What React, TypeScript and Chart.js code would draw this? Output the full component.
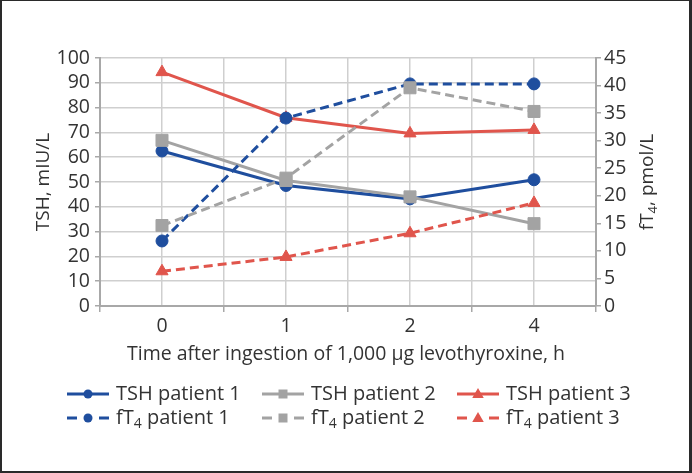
import React, { useEffect, useRef } from "react";
import { Chart, registerables } from "chart.js";

Chart.register(...registerables);

const categories = ["0", "1", "2", "4"];
const tshPatient1 = [62.5, 48.6, 43.2, 50.9];
const tshPatient2 = [66.8, 50.6, 44.0, 33.2];
const tshPatient3 = [94.3, 75.9, 69.6, 71.0];
const ft4Patient1 = [11.8, 34.1, 40.3, 40.3];
const ft4Patient2 = [14.6, 23.2, 39.6, 35.3];
const ft4Patient3 = [6.3, 8.9, 13.2, 18.7];
const leftTicks = { min: 0, max: 100, step: 10 };
const rightTicks = { min: 0, max: 45, step: 5 };
const xTitle = "Time after ingestion of 1,000 μg levothyroxine, h";
const leftTitle = "TSH, mIU/L";
const rightTitle = "fT₄, pmol/L";

const BLUE = "#1F4E9E";
const GRAY = "#A3A3A3";
const RED = "#E0554C";
const TEXT = "#333333";
const FONT = "'Open Sans', 'Noto Sans', sans-serif";

function drawRich(ctx: CanvasRenderingContext2D, text: string, x: number, y: number, size: number, align: "left" | "center") {
  const parts = text.split("₄");
  const segs: { t: string; sub: boolean }[] = [];
  parts.forEach((p, i) => {
    if (p) segs.push({ t: p, sub: false });
    if (i < parts.length - 1) segs.push({ t: "4", sub: true });
  });
  const main = `${size}px ${FONT}`;
  const small = `${Math.round(size * 0.7)}px ${FONT}`;
  let total = 0;
  segs.forEach((s) => {
    ctx.font = s.sub ? small : main;
    total += ctx.measureText(s.t).width;
  });
  let cx = align === "center" ? x - total / 2 : x;
  ctx.textBaseline = "middle";
  ctx.textAlign = "left";
  segs.forEach((s) => {
    ctx.font = s.sub ? small : main;
    ctx.fillText(s.t, cx, s.sub ? y + size * 0.3 : y);
    cx += ctx.measureText(s.t).width;
  });
}

function drawMarker(ctx: CanvasRenderingContext2D, style: string, x: number, y: number, r: number, color: string) {
  ctx.fillStyle = color;
  ctx.beginPath();
  if (style === "circle") {
    ctx.arc(x, y, r, 0, Math.PI * 2);
  } else if (style === "rect") {
    ctx.rect(x - r, y - r, 2 * r, 2 * r);
  } else {
    const h = r * 1.8;
    ctx.moveTo(x, y - h * 0.6);
    ctx.lineTo(x + r * 1.05, y + h * 0.4);
    ctx.lineTo(x - r * 1.05, y + h * 0.4);
    ctx.closePath();
  }
  ctx.fill();
}

const decorPlugin = {
  id: "decor",
  afterDraw(chart: any) {
    const ctx: CanvasRenderingContext2D = chart.ctx;
    const ca = chart.chartArea;
    ctx.save();
    ctx.fillStyle = TEXT;
    // x title
    drawRich(ctx, xTitle, (ca.left + ca.right) / 2 - 2, ca.bottom + 48, 19.5, "center");
    // left title
    ctx.save();
    ctx.translate(44, (ca.top + ca.bottom) / 2);
    ctx.rotate(-Math.PI / 2);
    ctx.fillStyle = TEXT;
    drawRich(ctx, leftTitle, 0, 0, 19, "center");
    ctx.restore();
    // right title
    ctx.save();
    ctx.translate(648, (ca.top + ca.bottom) / 2);
    ctx.rotate(-Math.PI / 2);
    ctx.fillStyle = TEXT;
    drawRich(ctx, rightTitle, 0, 0, 19, "center");
    ctx.restore();
    // legend
    const cols = [67, 262, 457];
    const rows = [ca.bottom + 88, ca.bottom + 112];
    const ds = chart.data.datasets;
    ds.forEach((d: any, i: number) => {
      const col = i % 3;
      const row = Math.floor(i / 3);
      const x0 = cols[col];
      const x1 = x0 + 42;
      const y = rows[row];
      const color = d.borderColor;
      ctx.strokeStyle = color;
      ctx.lineWidth = 3;
      ctx.setLineDash([]);
      ctx.beginPath();
      if (d.borderDash && d.borderDash.length) {
        ctx.moveTo(x0, y);
        ctx.lineTo(x0 + 10, y);
        ctx.moveTo(x1 - 10, y);
        ctx.lineTo(x1, y);
      } else {
        ctx.moveTo(x0, y);
        ctx.lineTo(x1, y);
      }
      ctx.stroke();
      const ps = d.pointStyle;
      drawMarker(ctx, ps, (x0 + x1) / 2, y, ps === "circle" ? 4.5 : ps === "rect" ? 4.5 : 5.5, color);
      ctx.fillStyle = TEXT;
      drawRich(ctx, d.label, x1 + 7, y, 20, "left");
    });
    ctx.restore();
  },
};

export default function App() {
  const ref = useRef<HTMLCanvasElement>(null);
  useEffect(() => {
    if (!ref.current) return;
    const mk = (label: string, data: number[], color: string, style: string, dashed: boolean, axis: string, r: number, order: number) => ({
      label,
      data: data.map((v, i) => ({ x: i, y: v })),
      borderColor: color,
      backgroundColor: color,
      pointBackgroundColor: color,
      pointBorderColor: color,
      pointStyle: style,
      pointRadius: r,
      pointBorderWidth: 1,
      borderWidth: 3,
      borderDash: dashed ? [9, 5] : [],
      yAxisID: axis,
      tension: 0,
      fill: false,
      order,
    });
    const chart = new Chart(ref.current, {
      type: "line",
      data: {
        datasets: [
          mk("TSH patient 1", tshPatient1, BLUE, "circle", false, "y", 6, 5),
          mk("TSH patient 2", tshPatient2, GRAY, "rect", false, "y", 8.5, 4),
          mk("TSH patient 3", tshPatient3, RED, "triangle", false, "y", 7, 3),
          mk("fT₄ patient 1", ft4Patient1, BLUE, "circle", true, "y2", 6, 2),
          mk("fT₄ patient 2", ft4Patient2, GRAY, "rect", true, "y2", 8.5, 1),
          mk("fT₄ patient 3", ft4Patient3, RED, "triangle", true, "y2", 7, 0),
        ] as any,
      },
      options: {
        animation: false,
        responsive: false,
        layout: { padding: { top: 58, left: 0, right: 0, bottom: 0 } },
        plugins: { legend: { display: false }, tooltip: { enabled: false } },
        scales: {
          x: {
            type: "linear",
            min: -0.5,
            max: 3.5,
            afterFit: (s: any) => { s.height = 167; },
            ticks: {
              stepSize: 0.5,
              autoSkip: false,
              maxRotation: 0,
              color: TEXT,
              font: { family: FONT, size: 19.5 },
              padding: 3,
              callback: (v: any) => (Number.isInteger(v) && v >= 0 && v < categories.length ? categories[v] : ""),
            },
            grid: {
              color: "#CFCFCF",
              lineWidth: 1.5,
              tickLength: 6,
              tickColor: (c: any) => (c.tick && Number.isInteger(c.tick.value) ? "rgba(0,0,0,0)" : "#A8A8A8"),
            },
            border: { color: "#A8A8A8", width: 2 },
          },
          y: {
            position: "left",
            min: leftTicks.min,
            max: leftTicks.max,
            afterFit: (s: any) => { s.width = 100; },
            ticks: { stepSize: leftTicks.step, autoSkip: false, color: TEXT, font: { family: FONT, size: 19.5 }, padding: 5 },
            grid: { color: "#CFCFCF", lineWidth: 1.5, tickLength: 5, tickColor: "#A8A8A8" },
            border: { color: "#A8A8A8", width: 2 },
          },
          y2: {
            position: "right",
            min: rightTicks.min,
            max: rightTicks.max,
            afterFit: (s: any) => { s.width = 96; },
            ticks: { stepSize: rightTicks.step, autoSkip: false, color: TEXT, font: { family: FONT, size: 19.5 }, padding: 3 },
            grid: { drawOnChartArea: false, tickLength: 5, tickColor: "#A8A8A8", lineWidth: 1.5 },
            border: { color: "#A8A8A8", width: 2 },
          },
        },
      } as any,
      plugins: [decorPlugin as any],
    });
    return () => chart.destroy();
  }, []);
  return (
    <div style={{ position: "fixed", left: 0, top: 0, width: 692, height: 473, background: "#fff" }}>
      <canvas ref={ref} width={692} height={473} style={{ position: "absolute", left: 0, top: 0 }} />
      <div
        style={{
          position: "absolute",
          left: 0,
          top: 0,
          width: 692,
          height: 473,
          boxSizing: "border-box",
          borderLeft: "2px solid #2a2a2a",
          borderTop: "1px solid #2a2a2a",
          borderRight: "3px solid #2a2a2a",
          borderBottom: "2px solid #2a2a2a",
          pointerEvents: "none",
        }}
      />
    </div>
  );
}
